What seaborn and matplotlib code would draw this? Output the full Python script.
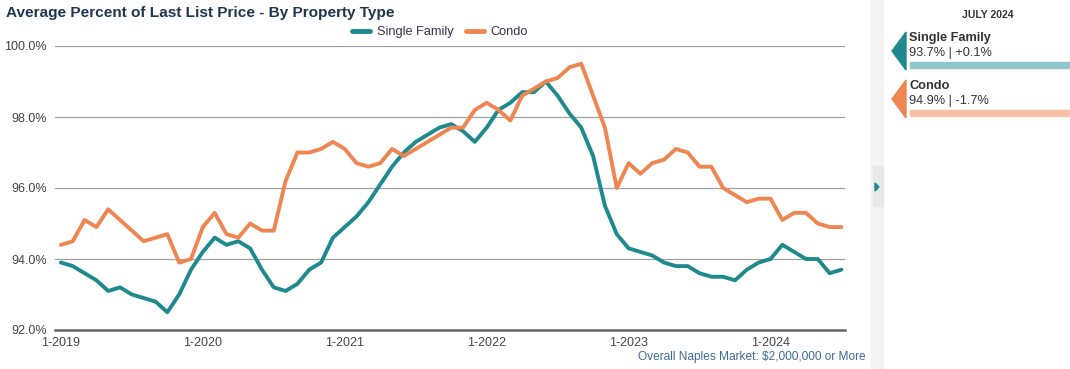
import numpy as np
import pandas as pd
import matplotlib
matplotlib.use("Agg")
import matplotlib.pyplot as plt
import seaborn as sns
from matplotlib.patches import Polygon, Rectangle

# monthly values, Jan 2019 .. Jul 2024
months = pd.date_range("2019-01-01", "2024-07-01", freq="MS")

single_family = [
    93.9, 93.8, 93.6, 93.4, 93.1, 93.2, 93.0, 92.9, 92.8, 92.5, 93.0, 93.7,
    94.2, 94.6, 94.4, 94.5, 94.3, 93.7, 93.2, 93.1, 93.3, 93.7, 93.9, 94.6,
    94.9, 95.2, 95.6, 96.1, 96.6, 97.0, 97.3, 97.5, 97.7, 97.8, 97.6, 97.3,
    97.7, 98.2, 98.4, 98.7, 98.7, 99.0, 98.6, 98.1, 97.7, 96.9, 95.5, 94.7,
    94.3, 94.2, 94.1, 93.9, 93.8, 93.8, 93.6, 93.5, 93.5, 93.4, 93.7, 93.9,
    94.0, 94.4, 94.2, 94.0, 94.0, 93.6, 93.7,
]
condo = [
    94.4, 94.5, 95.1, 94.9, 95.4, 95.1, 94.8, 94.5, 94.6, 94.7, 93.9, 94.0,
    94.9, 95.3, 94.7, 94.6, 95.0, 94.8, 94.8, 96.2, 97.0, 97.0, 97.1, 97.3,
    97.1, 96.7, 96.6, 96.7, 97.1, 96.9, 97.1, 97.3, 97.5, 97.7, 97.7, 98.2,
    98.4, 98.2, 97.9, 98.6, 98.8, 99.0, 99.1, 99.4, 99.5, 98.6, 97.7, 96.0,
    96.7, 96.4, 96.7, 96.8, 97.1, 97.0, 96.6, 96.6, 96.0, 95.8, 95.6, 95.7,
    95.7, 95.1, 95.3, 95.3, 95.0, 94.9, 94.9,
]
series_names = ["Single Family", "Condo"]
colors = ["#1f8a8e", "#ee8652"]
light_colors = ["#8fc6c7", "#f7c0a4"]
summary_lines = ["93.7% | +0.1%", "94.9% | -1.7%"]
year_ticks = ["1-2019", "1-2020", "1-2021", "1-2022", "1-2023", "1-2024"]
y_ticks = [92, 94, 96, 98, 100]

df = pd.DataFrame({
    "month": np.tile(np.arange(len(months)), 2),
    "value": single_family + condo,
    "type": np.repeat(series_names, len(months)),
})

sns.set_style("white")
plt.rcParams["font.family"] = ["Liberation Sans", "DejaVu Sans"]

W, H = 1070, 369
fig = plt.figure(figsize=(W / 100, H / 100), dpi=100)


def px(x, y):
    return x / W, 1 - y / H


ax = fig.add_axes([55 / W, 1 - 330 / H, 790 / W, 284 / H])
sns.lineplot(data=df, x="month", y="value", hue="type", palette=colors,
             linewidth=2.8, ax=ax, legend=False)

ax.set_xlim(-0.5, 66.3)
ax.set_ylim(92, 100)
ax.set_yticks(y_ticks)
ax.set_yticklabels([f"{v:.1f}%" for v in y_ticks], fontsize=9, color="#444444")
ax.set_xticks([12 * i for i in range(len(year_ticks))])
ax.set_xticklabels(year_ticks, fontsize=9, color="#444444")
ax.grid(axis="y", color="#a0a0a0", linewidth=0.9)
ax.set_axisbelow(True)
for s in ["top", "right", "left"]:
    ax.spines[s].set_visible(False)
ax.spines["bottom"].set_color("#666666")
ax.spines["bottom"].set_linewidth(1.8)
ax.tick_params(axis="x", length=4, width=1.5, color="#666666", pad=1)
ax.tick_params(axis="y", length=0, pad=6)
ax.set_xlabel("")
ax.set_ylabel("")

# legend
handles = [plt.Line2D([], [], color=c, linewidth=3.5) for c in colors]
fig.legend(handles, series_names, loc="center", bbox_to_anchor=px(440, 32),
           ncol=2, frameon=False, fontsize=9.2, handlelength=1.4,
           columnspacing=1.0, handletextpad=0.5, labelcolor="#333344")

fig.text(*px(6, 13), "Average Percent of Last List Price - By Property Type",
         fontsize=11.1, fontweight="bold", color="#1f3550", va="center")
fig.text(*px(866, 357), "Overall Naples Market: $2,000,000 or More",
         fontsize=8.6, color="#3c6a9c", ha="right", va="center")

# right panel
fig.patches.append(Rectangle(px(871, 369), 12 / W, 369 / H, transform=fig.transFigure,
                             color="#f4f4f4", zorder=0))
fig.patches.append(Rectangle(px(873, 206), 10 / W, 40 / H, transform=fig.transFigure,
                             color="#e8e8e8", zorder=1))
fig.patches.append(Polygon([px(875, 183), px(875, 191), px(879, 187)], closed=True,
                           transform=fig.transFigure, color="#1f8a8e", zorder=2))
fig.text(*px(988, 15), "JULY 2024", fontsize=7.5, fontweight="bold",
         color="#333333", ha="center", va="center")

for i, name in enumerate(series_names):
    top = 32 + 48 * i
    fig.patches.append(Polygon([px(906, top), px(892, top + 19), px(906, top + 38)],
                               closed=True, transform=fig.transFigure,
                               color=colors[i]))
    fig.patches.append(Rectangle(px(910, top + 36), 160 / W, 6 / H,
                                 transform=fig.transFigure, color=light_colors[i]))
    fig.text(*px(909, top + 6), name, fontsize=9.2, fontweight="bold",
             color="#333333", va="center")
    fig.text(*px(909, top + 21), summary_lines[i], fontsize=9.2,
             color="#333333", va="center")

fig.savefig("out.png", dpi=100)
